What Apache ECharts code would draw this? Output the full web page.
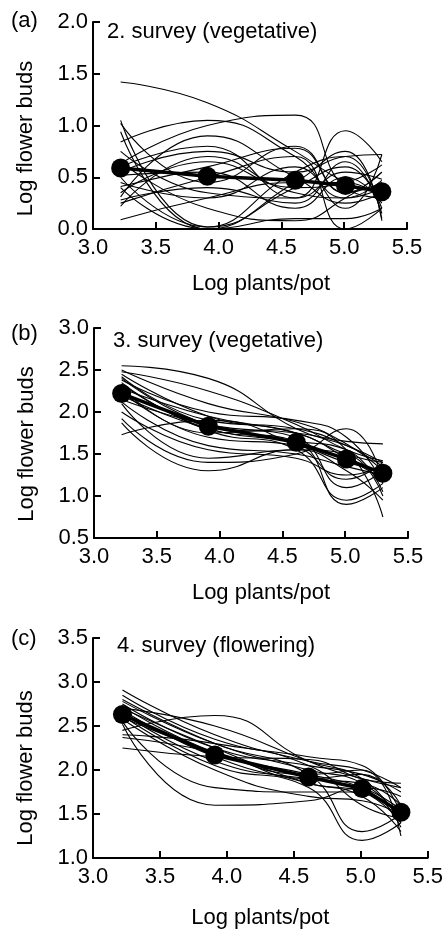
<!DOCTYPE html>
<html>
<head>
<meta charset="utf-8">
<script src="https://cdn.jsdelivr.net/npm/echarts@6/dist/echarts.min.js"></script>
<style>
  html, body { margin: 0; padding: 0; background: #fff; }
  #main { width: 446px; height: 930px; }
</style>
</head>
<body>
<div id="main"></div>
<script>
// log plants/pot (ln of 25, 50, 100, 150, 200)
var logDensity = [3.22, 3.91, 4.61, 5.01, 5.30];

// mean log flower buds per survey
var meanA = [0.59, 0.51, 0.47, 0.42, 0.36];
var meanB = [2.22, 1.83, 1.64, 1.44, 1.27];
var meanC = [2.63, 2.17, 1.92, 1.79, 1.52];

// single replicates, one row per curve
var curvesA = [
  [1.42, 1.22, 0.75, 0.45, 0.35],
  [1.05, 0.02, 0.55, 0.70, 0.10],
  [1.02, 0.45, 0.80, 0.35, 0.55],
  [0.94, 0.00, 0.40, 0.60, 0.20],
  [0.84, 1.05, 0.70, 0.30, 0.47],
  [0.63, 1.00, 1.10, 0.40, 0.30],
  [0.60, 0.80, 0.30, 0.95, 0.65],
  [0.55, 0.75, 0.55, 0.70, 0.72],
  [0.52, 0.55, 0.20, 0.50, 0.25],
  [0.50, 0.02, 0.45, 0.75, 0.08],
  [0.45, 0.30, 0.60, 0.20, 0.72],
  [0.41, 0.60, 0.78, 0.35, 0.45],
  [0.35, 0.65, 0.40, 0.45, 0.62],
  [0.31, 0.90, 0.50, 0.25, 0.35],
  [0.28, 0.40, 0.25, 0.65, 0.15],
  [0.25, 0.50, 0.70, 0.00, 0.20],
  [0.22, 0.70, 0.35, 0.30, 0.40],
  [0.09, 0.30, 0.45, 0.45, 0.30],
  [0.65, 0.20, 0.08, 0.30, 0.55],
  [0.40, 0.00, 0.10, 0.10, 0.20],
  [0.75, 0.35, 0.30, 0.55, 0.48]
];
var curvesB = [
  [2.55, 2.40, 1.80, 1.60, 1.40],
  [2.48, 2.25, 1.85, 1.55, 1.42],
  [2.45, 1.95, 1.75, 1.45, 1.20],
  [2.42, 1.90, 1.80, 1.60, 1.35],
  [2.40, 1.85, 1.70, 1.10, 1.30],
  [2.38, 2.00, 1.90, 1.70, 1.15],
  [2.35, 1.80, 1.65, 0.90, 1.10],
  [2.30, 1.75, 1.80, 1.55, 0.75],
  [2.28, 1.95, 1.75, 1.50, 1.40],
  [2.25, 1.70, 1.60, 1.40, 1.30],
  [2.20, 1.80, 1.65, 1.55, 1.05],
  [2.15, 1.85, 1.75, 1.65, 1.62],
  [2.12, 1.60, 1.50, 1.35, 1.25],
  [2.10, 1.45, 1.55, 1.50, 1.00],
  [2.00, 1.55, 1.45, 1.25, 1.35],
  [1.92, 1.40, 1.50, 1.80, 1.20],
  [1.87, 1.30, 1.55, 1.30, 0.95],
  [1.73, 1.90, 1.60, 1.20, 1.40],
  [2.50, 2.10, 1.88, 1.62, 1.30],
  [2.33, 1.78, 1.55, 0.95, 1.15]
];
var curvesC = [
  [2.91, 2.40, 2.10, 2.00, 1.80],
  [2.85, 2.35, 2.15, 2.05, 1.50],
  [2.78, 2.30, 2.00, 1.85, 1.45],
  [2.75, 2.25, 2.05, 1.95, 1.75],
  [2.72, 2.20, 1.95, 1.80, 1.55],
  [2.70, 2.50, 2.10, 1.90, 1.40],
  [2.68, 2.15, 1.85, 1.70, 1.30],
  [2.65, 2.10, 1.90, 1.85, 1.60],
  [2.62, 2.05, 1.80, 1.20, 1.40],
  [2.60, 2.20, 1.95, 2.00, 1.25],
  [2.58, 2.00, 1.70, 1.65, 1.50],
  [2.55, 1.80, 1.75, 1.75, 1.35],
  [2.52, 1.60, 1.65, 1.80, 1.70],
  [2.45, 2.62, 2.10, 1.90, 1.80],
  [2.40, 2.30, 2.05, 1.60, 1.45],
  [2.37, 2.20, 1.90, 1.95, 1.60],
  [2.25, 2.15, 2.12, 1.90, 1.85],
  [2.80, 2.30, 1.95, 1.30, 1.50],
  [2.70, 2.25, 1.85, 1.75, 1.40]
];

var panelLetters = ['(a)', '(b)', '(c)'];
var panelTitles = ['2. survey (vegetative)', '3. survey (vegetative)', '4. survey (flowering)'];
var yMins = [0, 0.5, 1.0];
var yMaxs = [2.0, 3.0, 3.5];

var FONT = 'Liberation Sans, Arial, Helvetica, sans-serif';
var chart = echarts.init(document.getElementById('main'));

function pairs(ys) {
  return ys.map(function (y, i) { return [logDensity[i], y]; });
}

var grids = [
  { left: 93, top: 22, width: 314, height: 207 },
  { left: 94, top: 328, width: 314, height: 210 },
  { left: 93, top: 638, width: 335, height: 221 }
];
var xGaps = [44, 44, 49];
var xPad = [[0, 0, 0, 22], [0, 0, 0, 20], [0, 0, 0, 0]];
var yPad = [[0, 26, 0, 0], [0, 22, 0, 0], [0, 40, 0, 0]];

var axisLine = { lineStyle: { color: '#000', width: 2 } };
var axisTick = { inside: true, length: 7, lineStyle: { color: '#000', width: 2 } };
var labelStyle = { color: '#000', fontSize: 22, fontFamily: FONT };

var xAxes = [], yAxes = [], titles = [], series = [];
[0, 1, 2].forEach(function (g) {
  xAxes.push({
    type: 'value', gridIndex: g, min: 3, max: 5.5, interval: 0.5,
    name: 'Log plants/pot', nameLocation: 'middle', nameGap: xGaps[g],
    nameTextStyle: { color: '#000', fontSize: 22, fontFamily: FONT, padding: xPad[g] },
    axisLine: axisLine, axisTick: axisTick, splitLine: { show: false },
    axisLabel: Object.assign({ margin: 8, formatter: function (v) { return v.toFixed(1); } }, labelStyle)
  });
  yAxes.push({
    type: 'value', gridIndex: g, min: yMins[g], max: yMaxs[g], interval: 0.5,
    name: 'Log flower buds', nameLocation: 'middle', nameGap: 56,
    nameTextStyle: { color: '#000', fontSize: 22, fontFamily: FONT, padding: yPad[g] },
    axisLine: axisLine, axisTick: axisTick, splitLine: { show: false },
    axisLabel: Object.assign({ margin: 5, formatter: function (v) { return v.toFixed(1); } }, labelStyle)
  });
});

titles = [
  { text: panelLetters[0], left: 11, top: 10 },
  { text: panelTitles[0], left: 107, top: 21 },
  { text: panelLetters[1], left: 11, top: 323 },
  { text: panelTitles[1], left: 113, top: 330 },
  { text: panelLetters[2], left: 11, top: 628 },
  { text: panelTitles[2], left: 117, top: 635 }
].map(function (t) {
  t.padding = 0;
  t.textStyle = { color: '#000', fontSize: 22, fontWeight: 'normal', fontFamily: FONT };
  return t;
});

[curvesA, curvesB, curvesC].forEach(function (set, g) {
  set.forEach(function (c) {
    series.push({
      type: 'line', xAxisIndex: g, yAxisIndex: g, data: pairs(c),
      smooth: 0.5, showSymbol: false, silent: true,
      lineStyle: { color: '#000', width: 1.1 }
    });
  });
});
[meanA, meanB, meanC].forEach(function (m, g) {
  series.push({
    type: 'line', xAxisIndex: g, yAxisIndex: g, data: pairs(m), z: 5,
    symbol: 'circle', symbolSize: 19,
    itemStyle: { color: '#000' },
    lineStyle: { color: '#000', width: 3.5 }
  });
});

chart.setOption({
  animation: false,
  title: titles,
  grid: grids,
  xAxis: xAxes,
  yAxis: yAxes,
  series: series
});
</script>
</body>
</html>
